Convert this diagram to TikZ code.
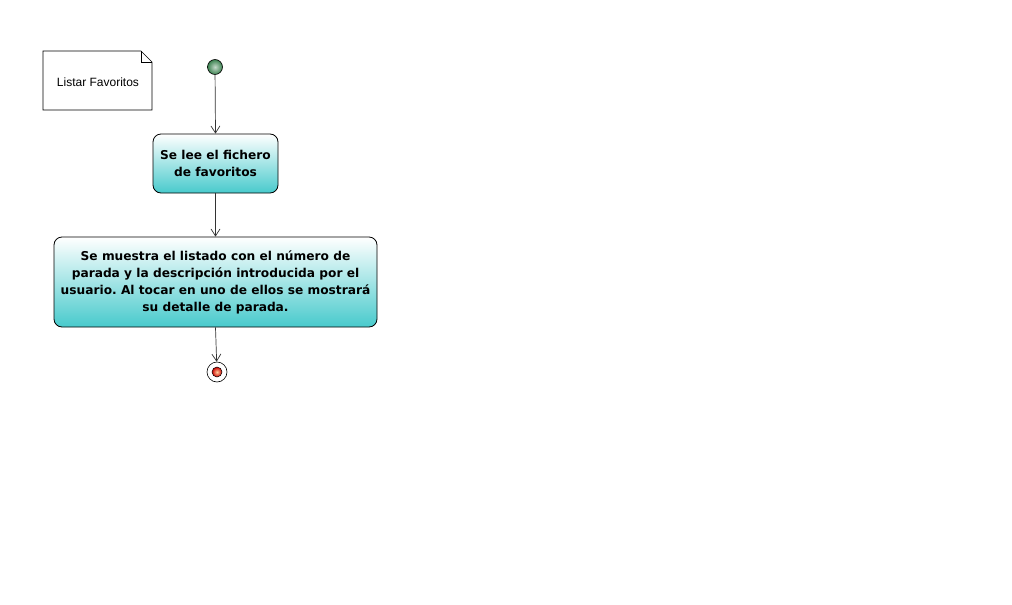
\documentclass[tikz,border=0pt]{standalone}
\usepackage{fontspec}
\setmainfont{DejaVu Sans}
\newfontfamily\notefont{Liberation Sans}
\usetikzlibrary{arrows.meta,shapes.misc}
\definecolor{teal1}{RGB}{72,202,204}
\definecolor{greenb}{RGB}{60,130,80}
\frenchspacing
\begin{document}
\begin{tikzpicture}[x=1pt,y=-1pt,
  actbox/.style={draw=black, line width=0.8pt, rounded corners=8pt, top color=white, bottom color=teal1, shading angle=0,
    font=\fontsize{12.2}{17}\selectfont\bfseries, align=center, inner sep=0pt},
  flow/.style={draw=black!80, line width=0.7pt, -{Straight Barb[length=7pt,width=9pt]}},
  notebox/.style={font=\notefont\fontsize{12}{14}\selectfont}
]
\useasboundingbox (0,0) rectangle (1012,605);
% note
\draw[line width=0.6pt, fill=white] (43,51) -- (141,51) -- (152,62) -- (152,110) -- (43,110) -- cycle;
\draw[line width=0.6pt] (141,51) -- (141,62) -- (152,62);
\node[notebox] (note) at (98,82) {Listar Favoritos};
% initial
\shade[inner color=greenb!30, outer color=greenb] (215,67) circle (7.5);
\node[circle, draw=black, line width=0.6pt, minimum size=15pt, inner sep=0pt] (start) at (215,67) {};
% boxes
\node[actbox, minimum width=125pt, minimum height=59pt] (b1) at (215.5,163.5) {Se lee el fichero\\de favoritos};
\node[actbox, minimum width=323pt, minimum height=90pt] (b2) at (215.5,282) {Se muestra el listado con el número de\\parada y la descripción introducida por el\\usuario. Al tocar en uno de ellos se mostrará\\su detalle de parada.};
% final
\node[circle, draw=black, line width=0.6pt, fill=white, minimum size=20pt, inner sep=0pt] (end) at (217,372) {};
\shade[inner color=orange!40, outer color=red!80!black] (217,372) circle (5);
\draw[line width=0.5pt] (217,372) circle (5);
% flows
\draw[flow] (start) -- (b1.north);
\draw[flow] (b1) -- (b2);
\draw[flow] (b2.south) -- (end);
\end{tikzpicture}
\end{document}
